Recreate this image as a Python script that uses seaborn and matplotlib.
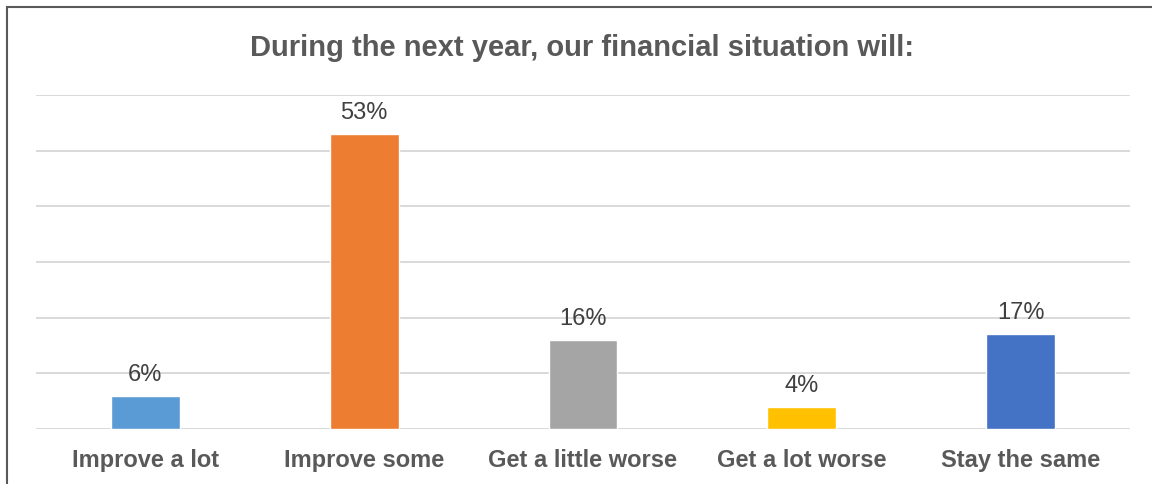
import matplotlib
matplotlib.use("Agg")
import matplotlib.pyplot as plt
import seaborn as sns
import pandas as pd
from matplotlib.patches import Rectangle

categories = ["Improve a lot", "Improve some", "Get a little worse", "Get a lot worse", "Stay the same"]
values = [6, 53, 16, 4, 17]
colors = ["#5B9BD5", "#ED7D31", "#A5A5A5", "#FFC000", "#4472C4"]
title = "During the next year, our financial situation will:"

sns.set_theme(style="white")
plt.rcParams["font.family"] = ["Liberation Sans", "DejaVu Sans"]

df = pd.DataFrame({"cat": categories, "val": values})

fig = plt.figure(figsize=(11.52, 4.85), dpi=100)
ax = fig.add_axes([36/1152, 1 - 430/485, (1130 - 36)/1152, (430 - 96)/485])

sns.barplot(data=df, x="cat", y="val", hue="cat", palette=colors, order=categories,
            hue_order=categories, width=0.315, legend=False, ax=ax, saturation=1, zorder=3)

ax.set_ylim(0, 60)
ax.set_yticks(range(0, 61, 10))
ax.yaxis.grid(True, color="#D9D9D9", linewidth=1.4, zorder=0)
ax.set_axisbelow(True)
ax.tick_params(axis="y", left=False, labelleft=False)
ax.tick_params(axis="x", bottom=False, pad=8)
for s in ax.spines.values():
    s.set_visible(False)
ax.set_xlabel("")
ax.set_ylabel("")
for lab in ax.get_xticklabels():
    lab.set_fontsize(17)
    lab.set_fontweight("bold")
    lab.set_color("#595959")

for i, v in enumerate(values):
    ax.annotate(f"{v}%", (i, v), xytext=(0, 11.5), textcoords="offset points",
                ha="center", va="baseline", fontsize=17, color="#404040")

fig.text(582/1152, 1 - 56/485, title, ha="center", va="baseline", fontsize=21,
         fontweight="bold", color="#595959")

fig.patches.append(Rectangle((7/1152, -0.1), 1.2, 1 - 8/485 + 0.1, transform=fig.transFigure,
                             fill=False, edgecolor="#595959", linewidth=1.5))

fig.savefig("out.png", dpi=100)
